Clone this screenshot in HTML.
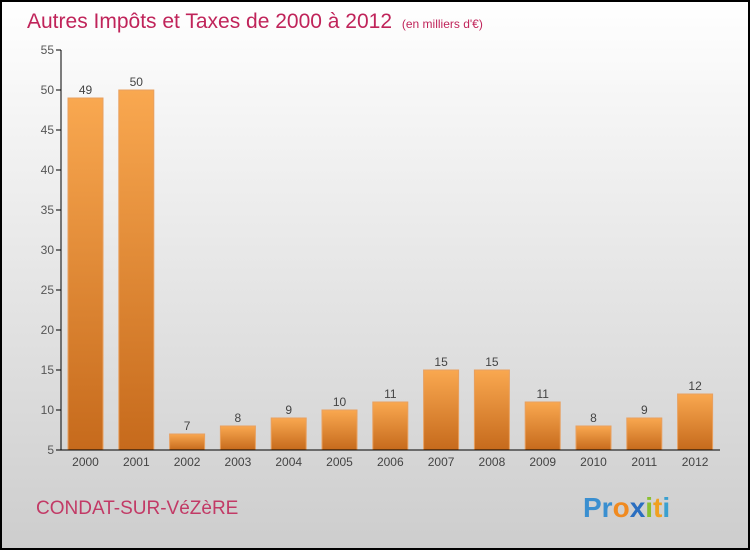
<!DOCTYPE html>
<html><head><meta charset="utf-8"><style>
html,body{margin:0;padding:0}
body{width:750px;height:550px;overflow:hidden;font-family:"Liberation Sans",sans-serif}
</style></head><body>
<svg width="750" height="550" xmlns="http://www.w3.org/2000/svg">
<defs>
<linearGradient id="bg" x1="0" y1="0" x2="0" y2="1"><stop offset="0" stop-color="#ffffff"/><stop offset="1" stop-color="#cdcdcd"/></linearGradient>
<linearGradient id="bar" x1="0" y1="0" x2="0" y2="1"><stop offset="0" stop-color="#f9a850"/><stop offset="1" stop-color="#c66a1c"/></linearGradient>
</defs>
<rect x="1" y="1" width="748" height="548" fill="url(#bg)" stroke="#000" stroke-width="2"/>
<text x="27" y="28" font-size="21" fill="#c0245a">Autres Impôts et Taxes de 2000 à 2012 <tspan font-size="12" dx="4">(en milliers d'€)</tspan></text>
<g id="plot"></g>
<text x="36" y="514" font-size="19" fill="#c23a66">CONDAT-SUR-VéZèRE</text>
<text x="583" y="517" font-size="28" font-weight="bold"><tspan fill="#3a8fd0">Pr</tspan><tspan fill="#f08a20">o</tspan><tspan fill="#2a6ec0">x</tspan><tspan fill="#8ac030">i</tspan><tspan fill="#f0a020">t</tspan><tspan fill="#3aa0d0">i</tspan></text>
</svg>
<script>
const categories=["2000","2001","2002","2003","2004","2005","2006","2007","2008","2009","2010","2011","2012"];
const values=[49,50,7,8,9,10,11,15,15,11,8,9,12];
const yTicks=[5,10,15,20,25,30,35,40,45,50,55];
const NS="http://www.w3.org/2000/svg";
const g=document.getElementById('plot');
const y=v=>450-(v-5)*8;
const x=i=>85.5+i*50.8;
function mk(t,a){const e=document.createElementNS(NS,t);for(const k in a)e.setAttribute(k,a[k]);g.appendChild(e);return e;}
yTicks.forEach(t=>{
 const l=mk('line',{x1:56,x2:61,y1:y(t),y2:y(t),stroke:'#000'});
 
 
 const tx=mk('text',{x:54,y:y(t)+4,'font-size':12,fill:'#555','text-anchor':'end'});tx.textContent=t;
 
 
});
categories.forEach((c,i)=>{
 const v=values[i];
 const r=mk('rect',{x:x(i)-17.5,y:y(v),width:35,height:450-y(v),fill:'url(#bar)',stroke:'#e8a060','stroke-width':1});
 
 
 const lb=mk('text',{x:x(i),y:y(v)-4,'font-size':12,fill:'#444','text-anchor':'middle'});lb.textContent=v;
 
 
 const xl=mk('text',{x:x(i),y:466,'font-size':12,fill:'#444','text-anchor':'middle'});xl.textContent=c;
 
 
});
const ya=mk('line',{x1:61,x2:61,y1:50,y2:450,stroke:'#000'});


const xa=mk('line',{x1:61,x2:720,y1:450,y2:450,stroke:'#000'});


</script>
</body></html>
